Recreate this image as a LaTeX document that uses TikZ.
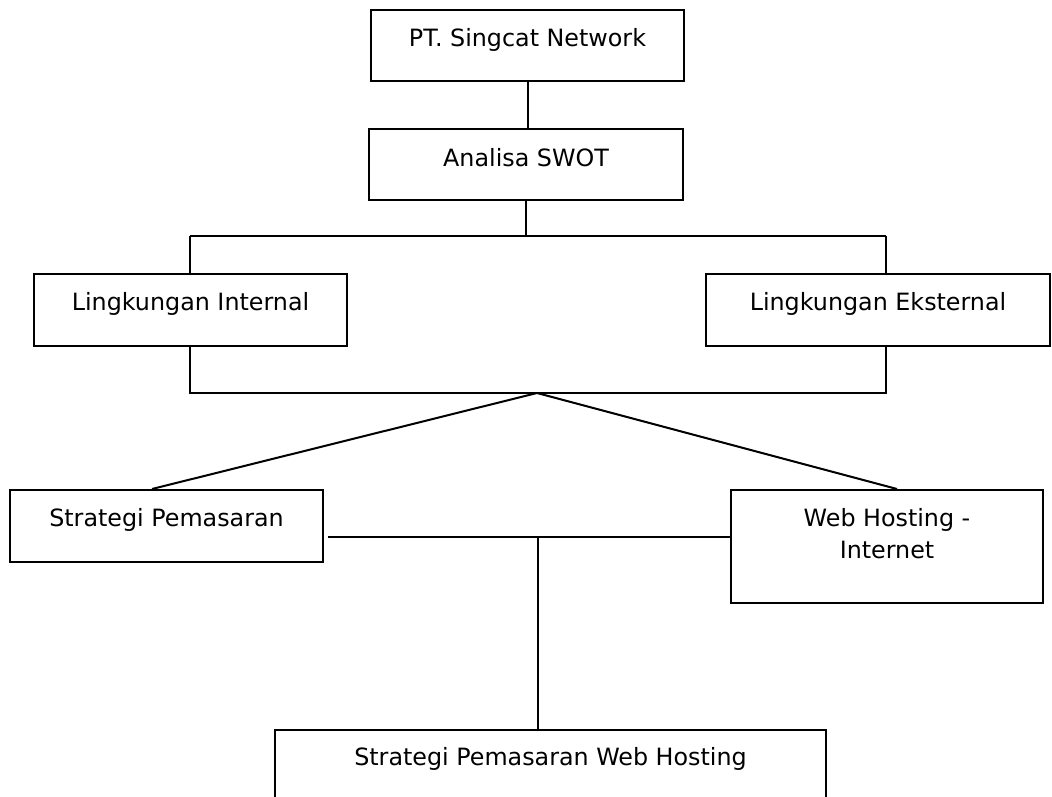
\documentclass[tikz,border=0pt]{standalone}
\usepackage{fontspec}
\setmainfont{DejaVu Sans}
\begin{document}
\begin{tikzpicture}[x=1pt,y=-1pt,
  box/.style={draw,line width=2pt,rectangle,inner sep=0pt,anchor=north west},
  lbl/.style={font=\fontsize{23.8}{32}\selectfont,anchor=base,inner sep=0pt},
  conn/.style={line width=2pt}]
\useasboundingbox (0,0) rectangle (1052,797);
\fill[white] (0,0) rectangle (1052,797);

% boxes
\node[box,minimum width=313pt,minimum height=71pt] (b1) at (370,9) {};
\node[box,minimum width=314pt,minimum height=71pt] (b2) at (368,128) {};
\node[box,minimum width=313pt,minimum height=72pt] (b3) at (33,273) {};
\node[box,minimum width=344pt,minimum height=72pt] (b4) at (705,273) {};
\node[box,minimum width=313pt,minimum height=72pt] (b5) at (9,489) {};
\node[box,minimum width=312pt,minimum height=113pt] (b6) at (730,489) {};
\node[box,minimum width=551pt,minimum height=100pt] (b7) at (274,729) {};

% labels
\node[lbl] (t1) at ([yshift=-38pt]b1.north) {PT. Singcat Network};
\node[lbl] (t2) at ([yshift=-38pt]b2.north) {Analisa SWOT};
\node[lbl] (t3) at ([yshift=-37pt]b3.north) {Lingkungan Internal};
\node[lbl] (t4) at ([yshift=-37pt]b4.north) {Lingkungan Eksternal};
\node[lbl] (t5) at ([yshift=-37pt]b5.north) {Strategi Pemasaran};
\node[lbl] (t6a) at ([yshift=-37pt]b6.north) {Web Hosting -};
\node[lbl] (t6b) at ([yshift=-69pt]b6.north) {Internet};
\node[lbl] (t7) at ([yshift=-36pt]b7.north) {Strategi Pemasaran Web Hosting};

% connectors
\draw[conn] (b1.south) -- (b1.south |- b2.north);
\coordinate (hL) at (190,236);
\coordinate (hR) at (886,236);
\draw[conn] (b2.south) -- (b2.south |- hL);
\draw[conn] (hL) -- (hR);
\draw[conn] (hL) -- (hL |- b3.north);
\draw[conn] (hR) -- (hR |- b4.north);
\coordinate (lL) at (190,393);
\coordinate (lR) at (886,393);
\draw[conn] (lL |- b3.south) -- (lL) -- (lR) -- (lR |- b4.south);
\coordinate (apex) at (537,393);
\coordinate (a5) at (152,489);
\coordinate (a6) at (897,489);
\draw[conn] (a5) -- (apex) -- (a6);
\coordinate (m1) at (328,537);
\coordinate (mj) at (538,537);
\draw[conn] (m1) -- (m1 -| b6.west);
\draw[conn] (mj) -- (mj |- b7.north);
\end{tikzpicture}
\end{document}
